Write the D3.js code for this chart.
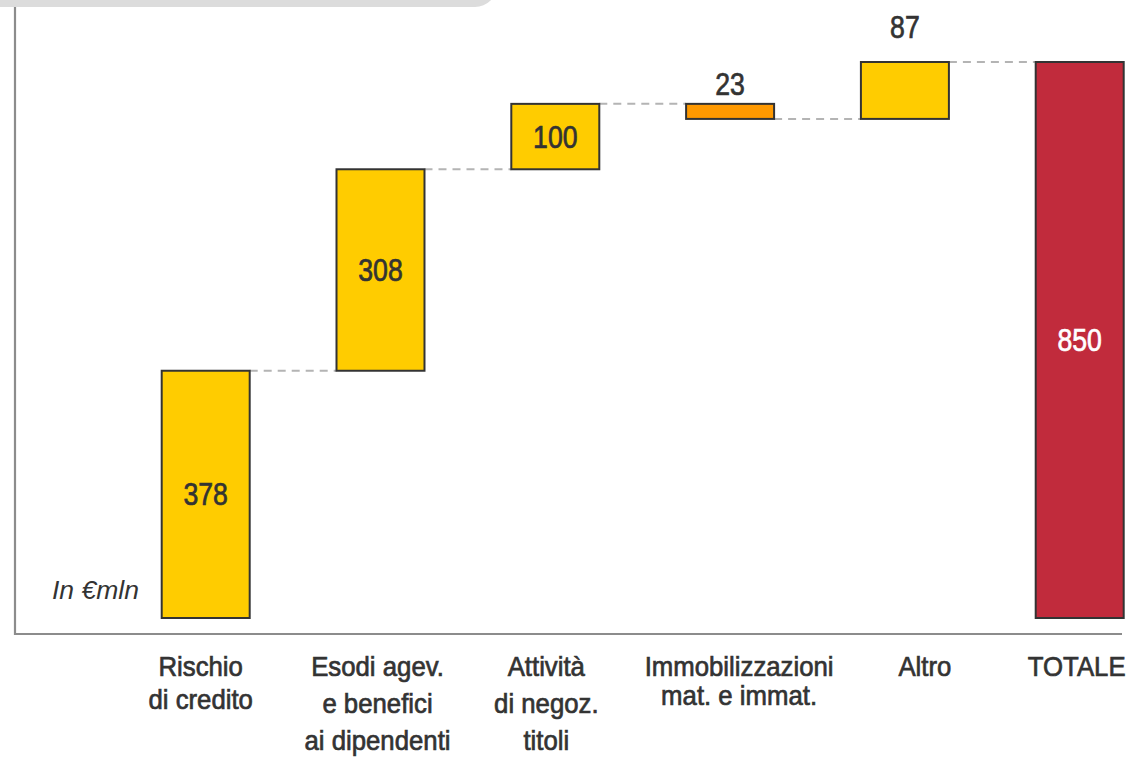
<!DOCTYPE html>
<html>
<head>
<meta charset="utf-8">
<script src="https://cdn.jsdelivr.net/npm/d3@7"></script>
<style>
  html, body { margin: 0; padding: 0; background: #ffffff; }
  svg { display: block; }
  .lbl { font-family: "Liberation Sans", Arial, sans-serif; fill: #333333; stroke: #333333; stroke-width: 0.7px; }
  .lbl.inv { fill: #ffffff; stroke: #ffffff; }
</style>
</head>
<body>
<svg id="chart" width="1127" height="757"></svg>
<script>
// Waterfall components (€ mln); the last entry is the overall total
const categories = [
  "Rischio\ndi credito",
  "Esodi agev.\ne benefici\nai dipendenti",
  "Attività\ndi negoz.\ntitoli",
  "Immobilizzazioni\nmat. e immat.",
  "Altro",
  "TOTALE"
];
const deltas = [378, 308, 100, -23, 87, 850];
const kinds = ["up", "up", "up", "down", "up", "total"];
const unitNote = "In €mln";

const svg = d3.select("#chart");

const fills = { up: "#ffcc00", down: "#ff9900", total: "#c12b3c" };

// cumulative start/end for each step
let run = 0;
const steps = categories.map((c, i) => {
  let start, end;
  if (kinds[i] === "total") { start = 0; end = deltas[i]; run = end; }
  else { start = run; end = run + deltas[i]; run = end; }
  return { cat: c, value: deltas[i], kind: kinds[i], start, end,
           lo: Math.min(start, end), hi: Math.max(start, end) };
});

const x = d3.scaleBand()
  .domain(categories)
  .range([118, 1167.4])
  .paddingInner(0.4966)
  .paddingOuter(0.25);

const y = d3.scaleLinear().domain([0, 850]).range([618, 62]);

// header tab across the top
svg.append("rect")
  .attr("x", -30).attr("y", -40)
  .attr("width", 527).attr("height", 47)
  .attr("rx", 22).attr("ry", 22)
  .attr("fill", "#dcdcdc");

// frame lines
svg.append("path")
  .attr("d", `M15,7 V634 H1122`)
  .attr("fill", "none")
  .attr("stroke", "#8c8c8c")
  .attr("stroke-width", 2.2);

// dashed connectors between consecutive steps
const links = steps.slice(0, -1).map((s, i) => ({ from: s, to: steps[i + 1], level: s.end }));
svg.append("g").selectAll("line")
  .data(links)
  .join("line")
  .attr("x1", d => x(d.from.cat) + x.bandwidth())
  .attr("x2", d => x(d.to.cat))
  .attr("y1", d => y(d.level))
  .attr("y2", d => y(d.level))
  .attr("stroke", "#b4b4b4")
  .attr("stroke-width", 2)
  .attr("stroke-dasharray", "8,6");

// bars
svg.append("g").selectAll("rect")
  .data(steps)
  .join("rect")
  .attr("x", d => x(d.cat))
  .attr("width", x.bandwidth())
  .attr("y", d => y(d.hi))
  .attr("height", d => y(d.lo) - y(d.hi))
  .attr("fill", d => fills[d.kind])
  .attr("stroke", "#333333")
  .attr("stroke-width", 2);

// value labels: inside bars of 100 and more, above smaller ones
const lift = { "Immobilizzazioni\nmat. e immat.": 9, "Altro": 24 };
svg.append("g").selectAll("g")
  .data(steps)
  .join("g")
  .attr("transform", d => {
    const cx = x(d.cat) + x.bandwidth() / 2;
    const cy = Math.abs(d.value) >= 100
      ? (y(d.lo) + y(d.hi)) / 2 + 11
      : y(d.hi) - (lift[d.cat] || 10);
    return `translate(${cx},${cy})`;
  })
  .append("text")
  .attr("class", d => d.kind === "total" ? "lbl inv" : "lbl")
  .attr("text-anchor", "middle")
  .attr("font-size", 31)
  .attr("transform", "scale(0.86,1)")
  .text(d => Math.abs(d.value));

// category axis (multi-line tick labels, each nudged to its own text box)
const lineGap = { "Immobilizzazioni\nmat. e immat.": 29, "Rischio\ndi credito": 33 };
const nudge = {
  "Rischio\ndi credito": -5,
  "Esodi agev.\ne benefici\nai dipendenti": -3,
  "Attività\ndi negoz.\ntitoli": -9,
  "Immobilizzazioni\nmat. e immat.": 9,
  "Altro": 20,
  "TOTALE": -3
};
const axis = svg.append("g")
  .attr("transform", "translate(0,634)")
  .call(d3.axisBottom(x).tickSize(0).tickFormat(""));
axis.select(".domain").remove();
axis.selectAll(".tick").each(function (d) {
  const lines = d.split("\n");
  const t = d3.select(this).append("text")
    .attr("class", "lbl")
    .attr("text-anchor", "middle")
    .attr("font-size", 28)
    .attr("transform", `translate(${nudge[d] || 0},0) scale(0.92,1)`)
    .attr("y", 42);
  lines.forEach((ln, k) => {
    t.append("tspan").attr("x", 0).attr("dy", k === 0 ? 0 : (lineGap[d] || 37)).text(ln);
  });
});

// unit note
svg.append("text")
  .attr("x", 52).attr("y", 599)
  .attr("font-family", "'Liberation Sans', Arial, sans-serif")
  .attr("font-style", "italic")
  .attr("font-size", 26.5)
  .attr("fill", "#333333")
  .text(unitNote);
</script>
</body>
</html>
